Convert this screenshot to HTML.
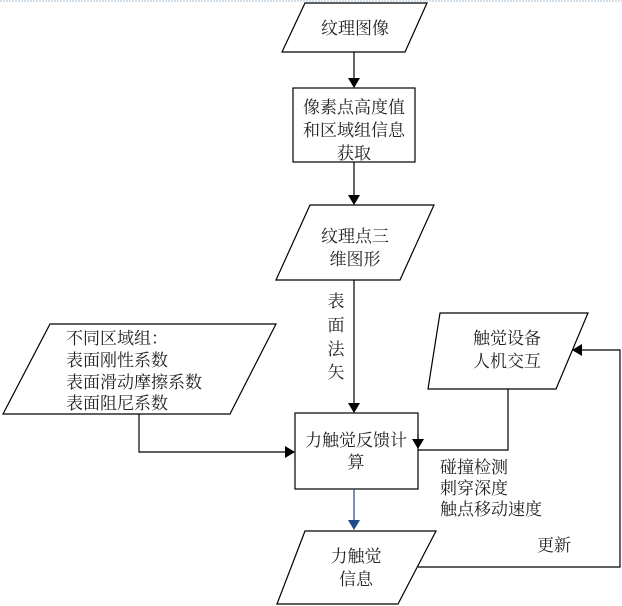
<!DOCTYPE html>
<html><head><meta charset="utf-8"><style>
html,body{margin:0;padding:0;background:#fff;}
svg{display:block;}
text{font-family:"Liberation Serif","Noto Serif CJK SC","Noto Sans CJK SC",serif;font-size:17px;fill:#222;}
</style></head><body>
<svg width="622" height="606" viewBox="0 0 622 606" xmlns="http://www.w3.org/2000/svg">
<defs>
<marker id="a" markerWidth="10" markerHeight="12" refX="9" refY="6" orient="auto" markerUnits="userSpaceOnUse"><path d="M0,0 L10,6 L0,12 z" fill="#000"/></marker>
<marker id="b" markerWidth="10" markerHeight="12" refX="9" refY="6" orient="auto" markerUnits="userSpaceOnUse"><path d="M0,0 L10,6 L0,12 z" fill="#1d4a8a"/></marker>
</defs>
<line x1="0" y1="1" x2="622" y2="1" stroke="#a9bfcf" stroke-width="1" stroke-dasharray="2,1"/>
<g fill="#fff" stroke="#000" stroke-width="1.2">
<polygon points="305,3 427,3 405,52 282,52"/>
<rect x="293" y="88" width="122" height="74"/>
<polygon points="310,205 434,205 400,280 276,280"/>
<polygon points="50,324 276,324 230,414 3,414"/>
<rect x="295" y="413" width="123" height="76"/>
<polygon points="440,313 588,313 556,389 428,389"/>
<polygon points="305,531 436,531 398,604 277,604"/>
</g>
<g stroke="#000" stroke-width="1.2" fill="none">
<line x1="354" y1="52" x2="354" y2="87" marker-end="url(#a)"/>
<line x1="354" y1="162" x2="354" y2="204" marker-end="url(#a)"/>
<line x1="354" y1="280" x2="354" y2="412" marker-end="url(#a)"/>
<polyline points="139,414 139,452 294,452" marker-end="url(#a)"/>
<polyline points="508,389 508,450 418,450"/>
<line x1="418" y1="434" x2="418" y2="448" marker-end="url(#a)"/>
<polyline points="418,567 620,567 620,350 573,350" marker-end="url(#a)"/>
</g>
<line x1="354" y1="489" x2="354" y2="529" stroke="#1d4a8a" stroke-width="1.2" marker-end="url(#b)"/>
<g text-anchor="middle">
<text x="355" y="34">纹理图像</text>
<text x="354" y="113">像素点高度值</text>
<text x="354" y="136">和区域组信息</text>
<text x="354" y="159">获取</text>
<text x="355" y="242">纹理点三</text>
<text x="355" y="265">维图形</text>
<text x="356" y="446">力触觉反馈计</text>
<text x="356" y="468">算</text>
<text x="507" y="344">触觉设备</text>
<text x="507" y="367">人机交互</text>
<text x="356" y="562">力触觉</text>
<text x="356" y="585">信息</text>
<text x="336" y="307">表</text>
<text x="336" y="331">面</text>
<text x="336" y="355">法</text>
<text x="336" y="378">矢</text>
</g>
<g>
<text x="66" y="344">不同区域组：</text>
<text x="66" y="366">表面刚性系数</text>
<text x="66" y="388">表面滑动摩擦系数</text>
<text x="66" y="409">表面阻尼系数</text>
<text x="440" y="473">碰撞检测</text>
<text x="440" y="494">刺穿深度</text>
<text x="440" y="515">触点移动速度</text>
<text x="537" y="551">更新</text>
</g>
</svg>
</body></html>
